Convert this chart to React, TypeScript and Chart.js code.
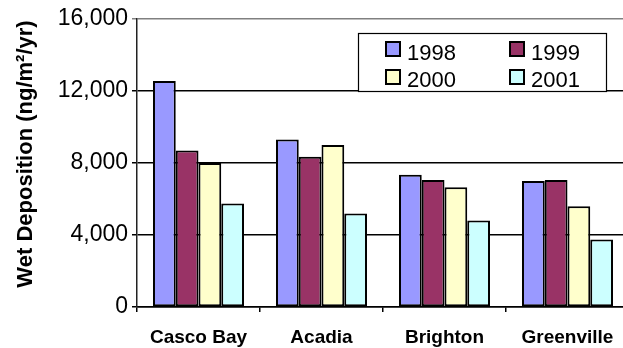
import React, { useEffect, useRef } from "react";
import { Chart, registerables } from "chart.js";

Chart.register(...registerables);

const categories = ["Casco Bay", "Acadia", "Brighton", "Greenville"];
const seriesLabels = ["1998", "1999", "2000", "2001"];
const values1998 = [12550, 9300, 7350, 7000];
const values1999 = [8700, 8350, 7050, 7050];
const values2000 = [8000, 9000, 6650, 5600];
const values2001 = [5750, 5200, 4800, 3750];
const seriesColors = ["#9999FF", "#993366", "#FFFFCC", "#CCFFFF"];
const yTicks = [0, 4000, 8000, 12000, 16000];
const yTitle = "Wet Deposition (ng/m\u00B2/yr)";

const FONT = "'Liberation Sans', Arial, sans-serif";

const legendPlugin = {
  id: "boxLegend",
  afterDraw(chart: any) {
    const ctx = chart.ctx;
    ctx.save();
    // legend box
    ctx.fillStyle = "#FFFFFF";
    ctx.fillRect(358, 33, 249, 59);
    ctx.strokeStyle = "#000000";
    ctx.lineWidth = 1.2;
    ctx.strokeRect(358.5, 33.5, 248, 58);
    const pos = [
      [386, 42, 407, 60],
      [510, 42, 531, 60],
      [386, 70, 407, 87],
      [510, 70, 531, 87],
    ];
    chart.data.datasets.forEach((ds: any, i: number) => {
      const [sx, sy, tx, ty] = pos[i];
      ctx.fillStyle = ds.backgroundColor;
      ctx.fillRect(sx, sy, 14, 14);
      ctx.lineWidth = 2;
      ctx.strokeStyle = "#000000";
      ctx.strokeRect(sx, sy, 14, 14);
      ctx.fillStyle = "#000000";
      ctx.font = `22px ${FONT}`;
      ctx.textAlign = "left";
      ctx.textBaseline = "alphabetic";
      ctx.fillText(ds.label, tx, ty);
    });
    // y-axis title
    ctx.translate(26, 154);
    ctx.rotate(-Math.PI / 2);
    ctx.font = `bold 22px ${FONT}`;
    ctx.fillStyle = "#000000";
    ctx.textAlign = "center";
    ctx.textBaseline = "middle";
    ctx.fillText(yTitle, 0, 0);
    ctx.restore();
  },
};

export default function App() {
  const ref = useRef<HTMLCanvasElement | null>(null);
  useEffect(() => {
    if (!ref.current) return;
    const allValues = [values1998, values1999, values2000, values2001];
    const chart = new Chart(ref.current, {
      type: "bar",
      data: {
        labels: categories,
        datasets: allValues.map((v, i) => ({
          label: seriesLabels[i],
          data: v,
          backgroundColor: seriesColors[i],
          borderColor: "#000000",
          borderWidth: 2,
          borderSkipped: false,
          categoryPercentage: 0.74,
          barPercentage: 1,
        })),
      },
      options: {
        responsive: false,
        animation: false,
        devicePixelRatio: 1,
        layout: { padding: { left: 0, right: 11, top: 19, bottom: 0 } },
        plugins: {
          legend: { display: false },
          tooltip: { enabled: false },
        },
        scales: {
          x: {
            grid: {
              display: true,
              drawOnChartArea: false,
              offset: true,
              tickLength: 5,
              color: "#000000",
              lineWidth: 1.5,
            },
            border: { display: true, color: "#000000", width: 1.5 },
            ticks: {
              font: { family: FONT, size: 19, weight: "bold" },
              color: "#000000",
              padding: 14,
              maxRotation: 0,
            },
            afterFit(scale: any) {
              scale.height = 41;
            },
          },
          y: {
            min: 0,
            max: 16000,
            afterBuildTicks(scale: any) {
              scale.ticks = yTicks.map((v) => ({ value: v }));
            },
            grid: {
              color: (c: any) => (c.tick && c.tick.value === 16000 ? "#808080" : "#000000"),
              lineWidth: 1.5,
              tickLength: 5,
            },
            border: { display: true, color: "#222222", width: 1.5 },
            ticks: {
              font: { family: FONT, size: 23 },
              color: "#000000",
              padding: 4,
              callback: (v: any) => Number(v).toLocaleString("en-US"),
            },
            afterFit(scale: any) {
              scale.width = 137;
            },
          },
        },
      },
      plugins: [legendPlugin],
    });
    return () => chart.destroy();
  }, []);
  return (
    <div
      style={{
        position: "fixed",
        left: 0,
        top: 0,
        width: 623,
        height: 348,
        overflow: "hidden",
        background: "#FFFFFF",
      }}
    >
      <canvas ref={ref} width={640} height={348} style={{ width: 640, height: 348 }} />
    </div>
  );
}
